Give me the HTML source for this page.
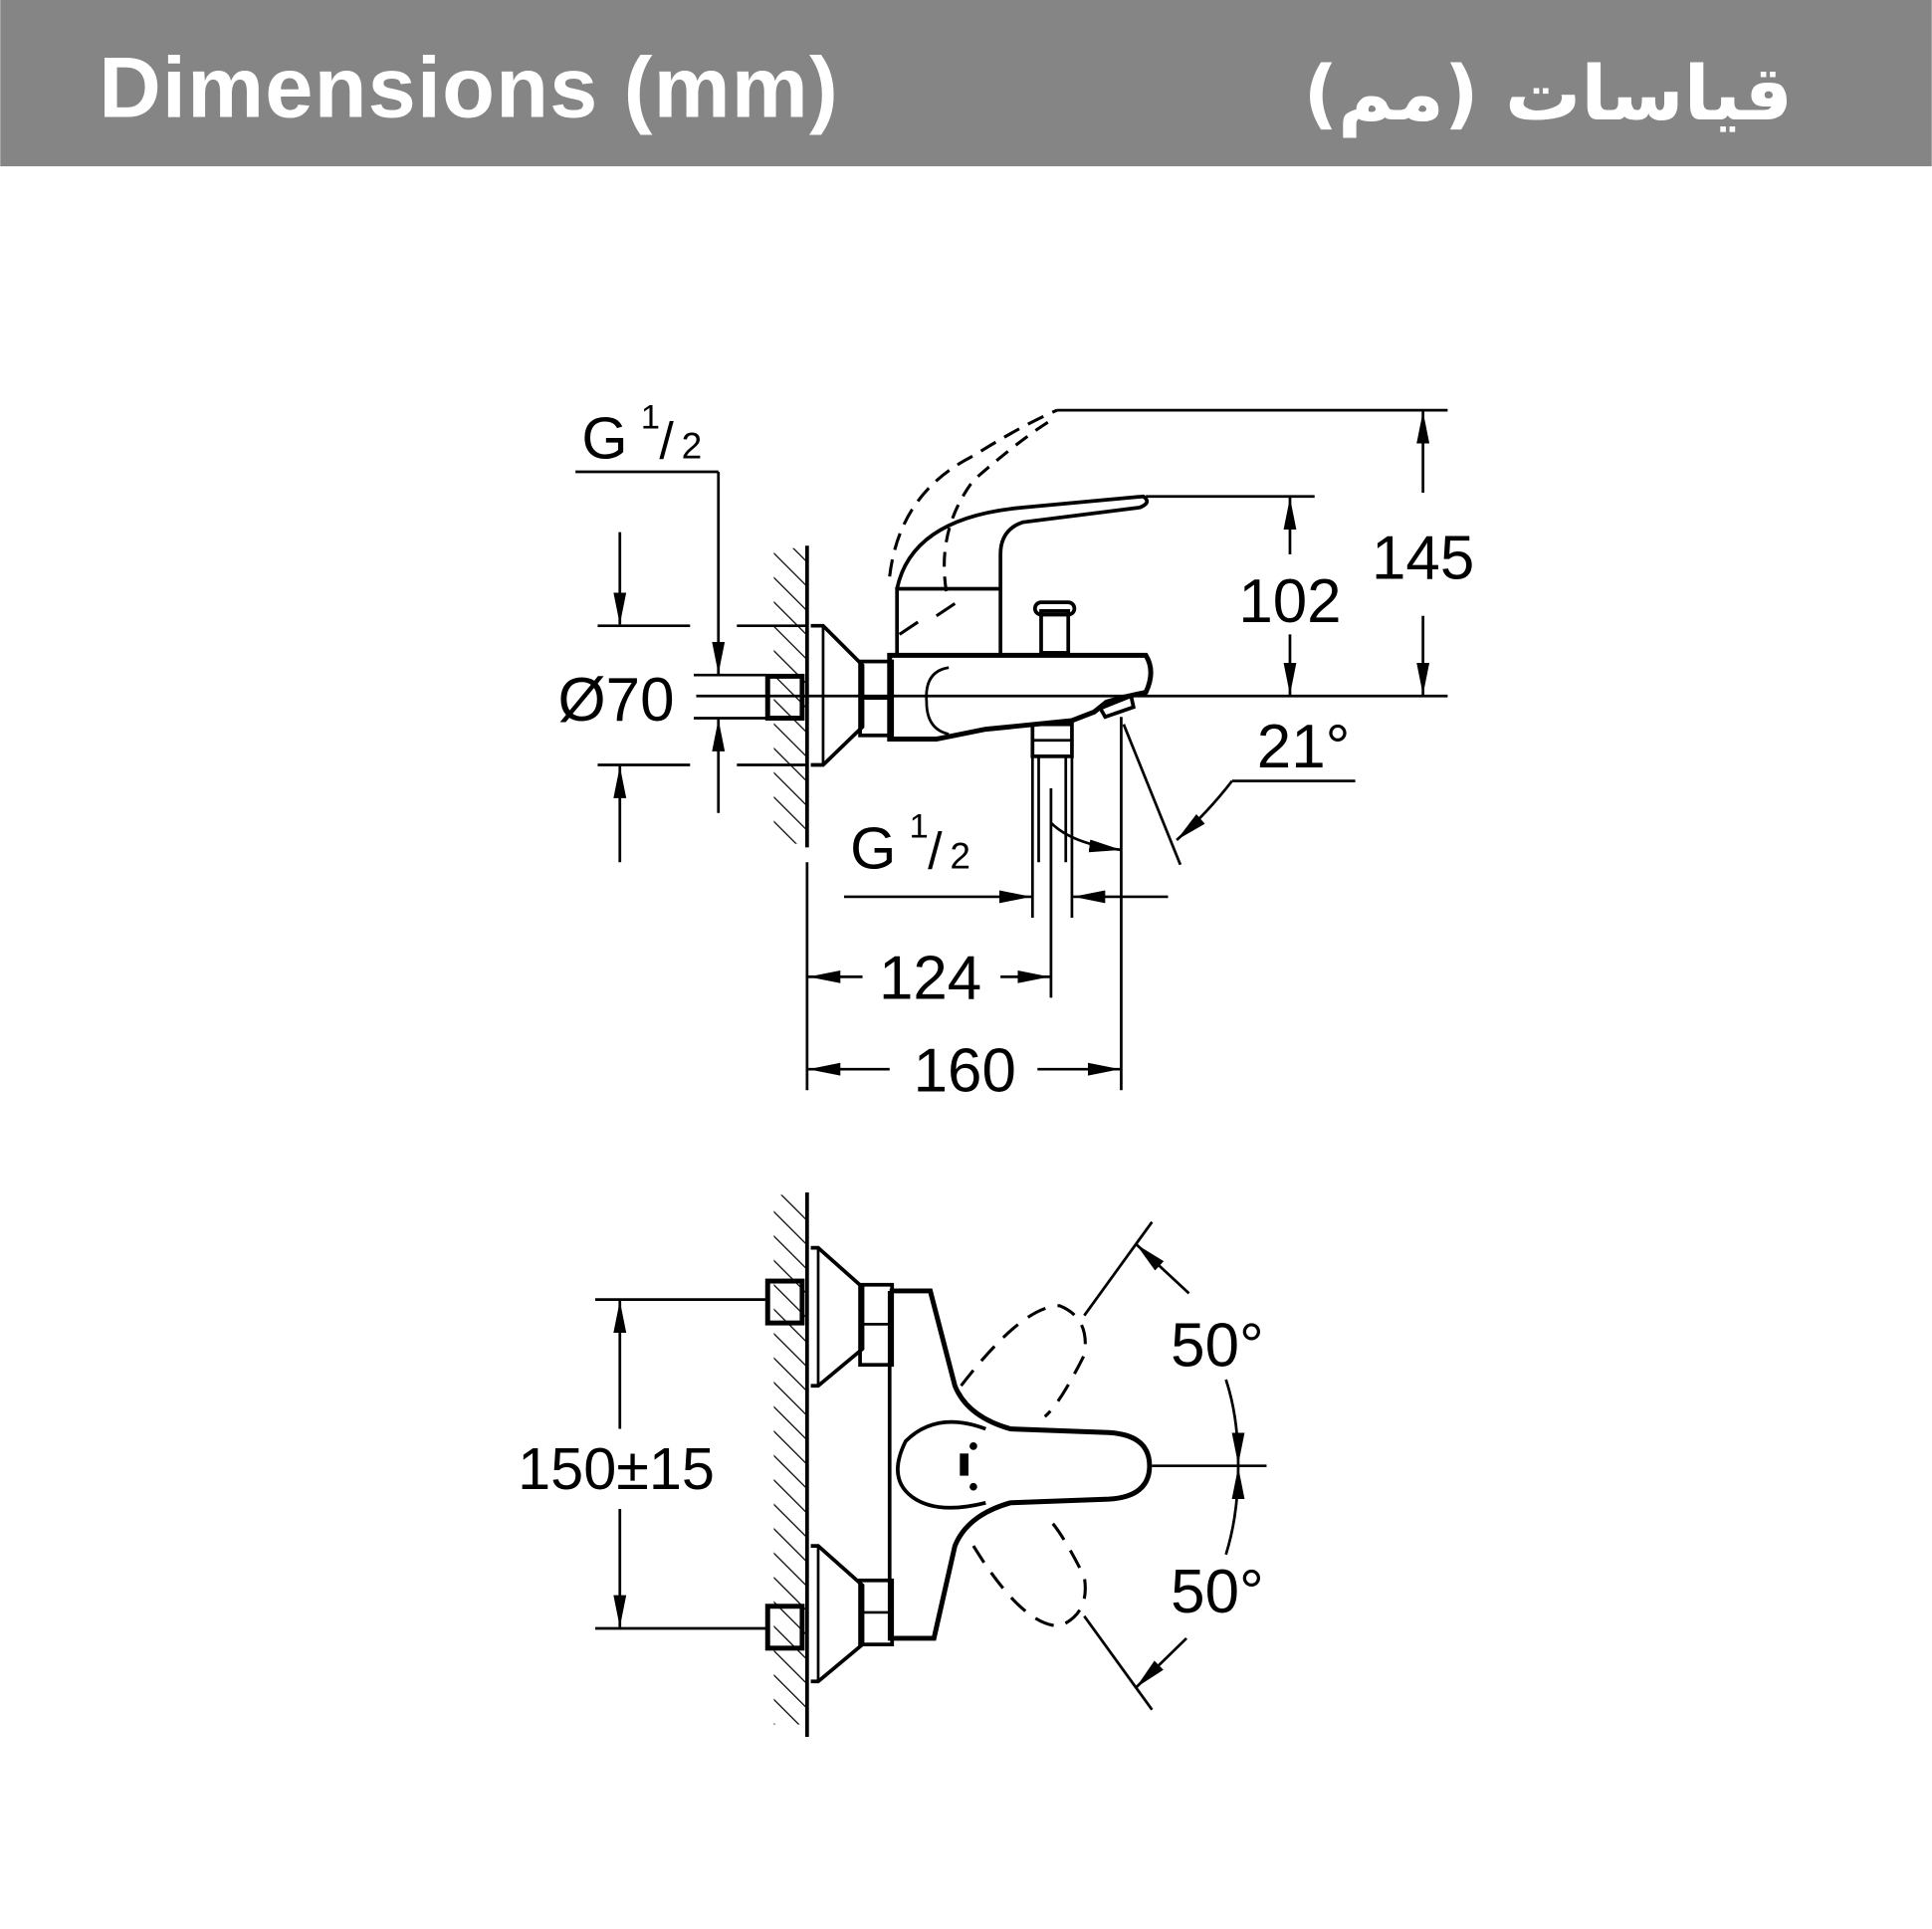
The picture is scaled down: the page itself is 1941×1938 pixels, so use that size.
<!DOCTYPE html>
<html><head><meta charset="utf-8"><style>
html,body{margin:0;padding:0;background:#fff;}
svg{display:block;}
#ar{position:absolute;right:140px;top:48px;font-family:"DejaVu Sans",sans-serif;font-weight:bold;font-size:76px;color:#fff;line-height:1.2;white-space:nowrap;}
</style></head><body>
<div style="position:relative;width:1941px;height:1938px;">
<svg width="1941" height="1938" viewBox="0 0 1568 1566" xmlns="http://www.w3.org/2000/svg">
<defs>
<pattern id="h" width="14" height="14" patternUnits="userSpaceOnUse" patternTransform="rotate(-45)"><line x1="0" y1="0" x2="0" y2="14" stroke="#000" stroke-width="2"/></pattern>
<marker id="a" viewBox="0 0 10 10" refX="10" refY="5" markerWidth="26" markerHeight="26" markerUnits="userSpaceOnUse" orient="auto"><path d="M0,3 L10,5 L0,7z" fill="#000"/></marker>
</defs>
<rect x="0" y="0" width="1568" height="135" fill="#858585"/>
<text x="80" y="95" font-family="Liberation Sans, sans-serif" font-weight="bold" font-size="70" fill="#fff" textLength="600">Dimensions (mm)</text>

<g stroke="#000" fill="none" stroke-width="2.2" font-family="Liberation Sans, sans-serif">
<!-- TOP VIEW -->
<rect x="628" y="445" width="26" height="240" fill="url(#h)" stroke="none"/>
<line x1="655" y1="443" x2="655" y2="688" stroke-width="3"/>
<path d="M658,508 L668,508 L700,540 L700,590 L668,621 L658,621" stroke-width="3"/>
<line x1="668" y1="508" x2="668" y2="621"/>
<rect x="623" y="549" width="28" height="34" stroke-width="4"/>
<rect x="698" y="537" width="26" height="60" stroke-width="3"/>
<line x1="698" y1="567" x2="724" y2="567"/>
<path d="M722,532 L930,532 Q938,545 930,562 L912,566 L898,570 L888,578 L870,585 L800,592 L760,600 L722,600 Z" stroke-width="4"/>
<path d="M770,542 Q750,545 752,570 Q752,592 770,596" />
<rect x="728" y="478" width="84" height="54" stroke-width="3"/>
<path d="M728,478 Q740,420 830,412 L928,403 Q935,408 925,412 L830,424 Q812,430 812,450 L812,478" stroke-width="3"/>
<path d="M722,468 Q730,400 790,370 Q830,345 858,333" stroke-dasharray="14,8" stroke-width="2.5"/>
<path d="M768,480 Q760,430 790,390 Q830,355 855,340" stroke-dasharray="12,8" stroke-width="2.5"/>
<path d="M775,490 L760,500 M745,505 L730,515" stroke-width="2.5"/>
<rect x="845" y="496" width="22" height="34" stroke-width="3"/>
<rect x="840" y="489" width="32" height="10" rx="5" stroke-width="3"/>
<rect x="838" y="588" width="32" height="26" stroke-width="3"/>
<line x1="838" y1="601" x2="870" y2="601"/>
<line x1="843" y1="614" x2="843" y2="700"/><line x1="865" y1="614" x2="865" y2="700"/>
<path d="M893,575 L918,565 L920,574 L897,582 Z" stroke-width="3"/>
<line x1="565" y1="565" x2="1175" y2="565"/>
<!-- 145 -->
<line x1="858" y1="333" x2="1175" y2="333"/>
<line x1="1155" y1="400" x2="1155" y2="334" marker-end="url(#a)"/>
<line x1="1155" y1="500" x2="1155" y2="564" marker-end="url(#a)"/>
<text x="1155" y="470" text-anchor="middle" font-size="50" fill="#000" stroke="none">145</text>
<!-- 102 -->
<line x1="930" y1="403" x2="1067" y2="403"/>
<line x1="1047" y1="450" x2="1047" y2="404" marker-end="url(#a)"/>
<line x1="1047" y1="515" x2="1047" y2="564" marker-end="url(#a)"/>
<text x="1047" y="505" text-anchor="middle" font-size="50" fill="#000" stroke="none">102</text>
<!-- Ø70 -->
<line x1="485" y1="508" x2="560" y2="508"/><line x1="598" y1="508" x2="655" y2="508"/>
<line x1="485" y1="621" x2="560" y2="621"/><line x1="598" y1="621" x2="655" y2="621"/>
<line x1="503" y1="432" x2="503" y2="507" marker-end="url(#a)"/>
<line x1="503" y1="700" x2="503" y2="622" marker-end="url(#a)"/>
<line x1="563" y1="548" x2="622" y2="548"/><line x1="563" y1="583" x2="622" y2="583"/>
<text x="500" y="585" text-anchor="middle" font-size="50" fill="#000" stroke="none">Ø70</text>
<!-- G1/2 top -->
<line x1="467" y1="383" x2="583" y2="383"/>
<line x1="583" y1="383" x2="583" y2="547" marker-end="url(#a)"/>
<line x1="583" y1="660" x2="583" y2="584" marker-end="url(#a)"/>
<text x="472" y="372" font-size="48" fill="#000" stroke="none">G</text>
<text x="520" y="348" font-size="28" fill="#000" stroke="none">1</text>
<text x="535" y="372" font-size="42" fill="#000" stroke="none">/</text>
<text x="553" y="372" font-size="30" fill="#000" stroke="none">2</text>
<!-- 21° -->
<line x1="912" y1="588" x2="958" y2="702"/>
<line x1="1000" y1="634" x2="1100" y2="634"/>
<path d="M1000,634 Q980,660 955,682" marker-end="url(#a)"/>
<text x="1058" y="623" text-anchor="middle" font-size="50" fill="#000" stroke="none">21°</text>
<!-- G1/2 bottom -->
<text x="690" y="705" font-size="48" fill="#000" stroke="none">G</text>
<text x="738" y="680" font-size="28" fill="#000" stroke="none">1</text>
<text x="753" y="705" font-size="42" fill="#000" stroke="none">/</text>
<text x="771" y="705" font-size="30" fill="#000" stroke="none">2</text>
<line x1="685" y1="728" x2="837" y2="728" marker-end="url(#a)"/>
<line x1="948" y1="728" x2="871" y2="728" marker-end="url(#a)"/>
<line x1="838" y1="614" x2="838" y2="745"/><line x1="870" y1="614" x2="870" y2="745"/>
<path d="M853,668 Q870,685 910,690" marker-end="url(#a)"/>
<!-- 124 / 160 -->
<line x1="655" y1="700" x2="655" y2="885"/>
<line x1="853" y1="640" x2="853" y2="810"/>
<line x1="910" y1="582" x2="910" y2="885"/>
<line x1="700" y1="793" x2="656" y2="793" marker-end="url(#a)"/>
<line x1="812" y1="793" x2="852" y2="793" marker-end="url(#a)"/>
<text x="755" y="811" text-anchor="middle" font-size="50" fill="#000" stroke="none">124</text>
<line x1="722" y1="868" x2="656" y2="868" marker-end="url(#a)"/>
<line x1="842" y1="868" x2="909" y2="868" marker-end="url(#a)"/>
<text x="783" y="886" text-anchor="middle" font-size="50" fill="#000" stroke="none">160</text>

<!-- BOTTOM VIEW -->
<rect x="628" y="970" width="26" height="430" fill="url(#h)" stroke="none"/>
<line x1="655" y1="968" x2="655" y2="1410" stroke-width="3"/>
<path d="M658,1013 L664,1013 L700,1045 L700,1095 L664,1125 L658,1125" stroke-width="3"/>
<line x1="664" y1="1013" x2="664" y2="1125"/>
<path d="M658,1255 L664,1255 L700,1287 L700,1335 L664,1365 L658,1365" stroke-width="3"/>
<line x1="664" y1="1255" x2="664" y2="1365"/>
<rect x="623" y="1040" width="28" height="34" stroke-width="4"/>
<rect x="623" y="1304" width="28" height="34" stroke-width="4"/>
<rect x="698" y="1043" width="26" height="65" stroke-width="3"/>
<line x1="698" y1="1075" x2="724" y2="1075"/>
<rect x="698" y="1283" width="26" height="52" stroke-width="3"/>
<line x1="698" y1="1309" x2="724" y2="1309"/>
<line x1="722" y1="1048" x2="722" y2="1332" stroke-width="3"/>
<path d="M722,1048 L755,1048 L775,1125 Q785,1150 820,1160 L900,1163 Q933,1165 933,1190 Q933,1215 900,1217 L820,1220 Q785,1230 775,1255 L758,1330 L722,1330" stroke-width="4"/>
<path d="M800,1160 Q760,1145 735,1170 Q720,1200 740,1215 Q760,1230 800,1220" stroke-width="3"/>
<rect x="779" y="1180" width="7" height="18" fill="#000" stroke="none"/>
<circle cx="790" cy="1174" r="2" fill="#000"/><circle cx="790" cy="1207" r="2" fill="#000"/>
<path d="M780,1125 Q830,1060 860,1060 Q885,1070 880,1100 Q860,1140 848,1150" stroke-dasharray="16,10" stroke-width="2.5"/>
<path d="M790,1255 Q830,1320 860,1320 Q885,1310 880,1280 Q860,1240 848,1230" stroke-dasharray="16,10" stroke-width="2.5"/>
<line x1="880" y1="1068" x2="935" y2="992"/>
<line x1="880" y1="1312" x2="935" y2="1388"/>
<line x1="935" y1="1190" x2="1028" y2="1190"/>
<line x1="965" y1="1050" x2="922" y2="1010" marker-end="url(#a)"/>
<line x1="963" y1="1330" x2="922" y2="1370" marker-end="url(#a)"/>
<path d="M995,1120 Q1005,1150 1005,1189" marker-end="url(#a)"/>
<path d="M995,1262 Q1005,1230 1005,1191" marker-end="url(#a)"/>
<text x="988" y="1109" text-anchor="middle" font-size="50" fill="#000" stroke="none">50°</text>
<text x="988" y="1309" text-anchor="middle" font-size="50" fill="#000" stroke="none">50°</text>
<!-- 150±15 -->
<line x1="483" y1="1055" x2="622" y2="1055"/>
<line x1="483" y1="1322" x2="622" y2="1322"/>
<line x1="503" y1="1160" x2="503" y2="1056" marker-end="url(#a)"/>
<line x1="503" y1="1225" x2="503" y2="1321" marker-end="url(#a)"/>
<text x="500" y="1209" text-anchor="middle" font-size="48" fill="#000" stroke="none">150±15</text>
</g>
</svg>
<div id="ar" dir="rtl">قياسات (مم)</div>
</div>
</body></html>
